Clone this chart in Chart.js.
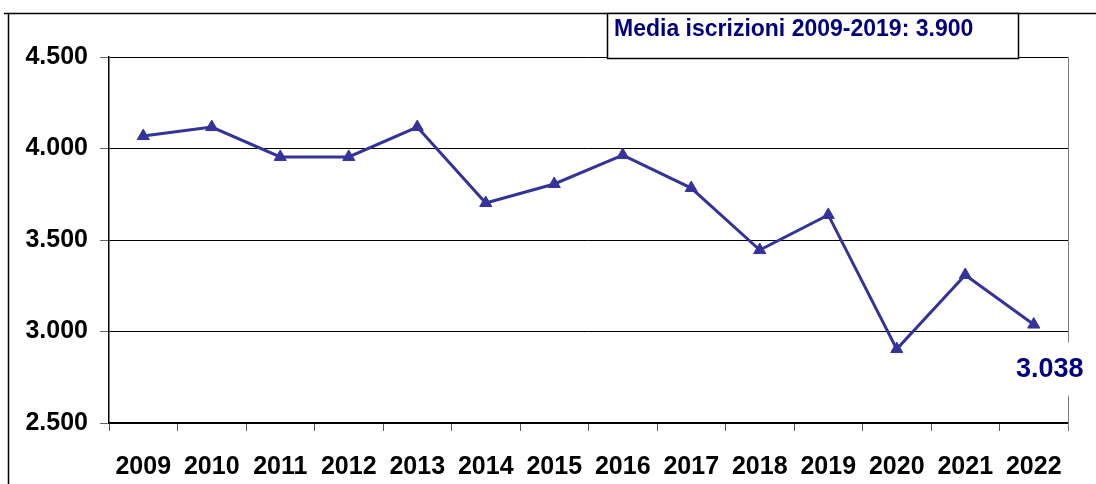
<!DOCTYPE html>
<html>
<head>
<meta charset="utf-8">
<script src="https://cdn.jsdelivr.net/npm/chart.js@4"></script>
<style>
  html, body { margin: 0; padding: 0; background: #fff; }
  #wrap { width: 1096px; height: 484px; }
</style>
</head>
<body>
<div id="wrap"><canvas id="iscrizioniChart" width="1096" height="484"></canvas></div>
<script>
// data
const years = ['2009', '2010', '2011', '2012', '2013', '2014', '2015', '2016', '2017', '2018', '2019', '2020', '2021', '2022'];
const iscrizioni = [4068, 4117, 3954, 3954, 4117, 3702, 3806, 3964, 3784, 3445, 3637, 2904, 3309, 3038];
const yTicks = [2500, 3000, 3500, 4000, 4500];
const mediaLabel = 'Media iscrizioni 2009-2019: 3.900';
const lastLabel = '3.038';

const FONT = '"Liberation Sans", Arial, sans-serif';
const LINE = '#333399';
const NAVY = '#000080';

function fmt(v) {
  return String(v).replace(/\B(?=(\d{3})+(?!\d))/g, '.');
}

// frame, right border, boxes
const decorPlugin = {
  id: 'decor',
  beforeDraw(chart) {
    const ctx = chart.ctx;
    ctx.save();
    ctx.strokeStyle = '#000';
    ctx.lineWidth = 1.5;
    ctx.beginPath();
    ctx.moveTo(4, 13.5);
    ctx.lineTo(1096, 13.5);
    ctx.moveTo(8.5, 13.5);
    ctx.lineTo(8.5, 484);
    ctx.stroke();
    ctx.restore();
  },
  afterDraw(chart) {
    const ctx = chart.ctx;
    const area = chart.chartArea;
    ctx.save();
    // right border of plot area
    ctx.strokeStyle = '#808080';
    ctx.lineWidth = 1;
    ctx.beginPath();
    ctx.moveTo(area.right + 0.5, area.top);
    ctx.lineTo(area.right + 0.5, area.bottom + 7);
    ctx.stroke();

    // media box
    ctx.fillStyle = '#fff';
    ctx.fillRect(607, 13, 412, 46);
    ctx.strokeStyle = '#000';
    ctx.lineWidth = 1.5;
    ctx.strokeRect(607.5, 13.5, 411, 45);
    ctx.fillStyle = NAVY;
    ctx.font = 'bold 23px ' + FONT;
    ctx.textBaseline = 'alphabetic';
    ctx.textAlign = 'left';
    ctx.fillText(mediaLabel, 614, 36);

    // last value label
    const meta = chart.getDatasetMeta(0);
    const pt = meta.data[meta.data.length - 1];
    ctx.fillStyle = '#fff';
    ctx.fillRect(pt.x - 24, pt.y + 18, 80, 53);
    ctx.fillStyle = NAVY;
    ctx.font = 'bold 27px ' + FONT;
    ctx.textAlign = 'center';
    ctx.textBaseline = 'middle';
    ctx.fillText(lastLabel, pt.x + 16, pt.y + 45);
    ctx.restore();
  }
};

new Chart(document.getElementById('iscrizioniChart'), {
  type: 'line',
  data: {
    labels: years,
    datasets: [{
      data: iscrizioni,
      borderColor: LINE,
      backgroundColor: LINE,
      borderWidth: 3,
      pointStyle: 'triangle',
      pointRadius: 7,
      pointBorderWidth: 1,
      pointBackgroundColor: LINE,
      tension: 0
    }]
  },
  options: {
    responsive: false,
    animation: false,
    devicePixelRatio: 1,
    layout: { padding: { top: 57, right: 28, left: 0, bottom: 0 } },
    plugins: {
      legend: { display: false },
      title: { display: false },
      tooltip: { enabled: false }
    },
    scales: {
      x: {
        offset: true,
        grid: {
          offset: true,
          drawOnChartArea: false,
          tickLength: 8,
          color: '#555'
        },
        border: { display: true, color: '#000', width: 1.5 },
        ticks: {
          color: '#000',
          font: { family: FONT, size: 25, weight: 'bold' },
          padding: 21,
          maxRotation: 0,
          autoSkip: false
        },
        afterFit(scale) { scale.height = 61; }
      },
      y: {
        min: 2500,
        max: 4500,
        afterBuildTicks(scale) {
          scale.ticks = yTicks.map(v => ({ value: v }));
        },
        grid: {
          color: '#000',
          lineWidth: 1,
          tickLength: 9,
          tickColor: '#666'
        },
        border: { display: true, color: '#000', width: 1.5 },
        ticks: {
          color: '#000',
          font: { family: FONT, size: 25, weight: 'bold' },
          padding: 12,
          callback: v => fmt(v)
        },
        afterFit(scale) { scale.width = 109; }
      }
    }
  },
  plugins: [decorPlugin]
});
</script>
</body>
</html>
